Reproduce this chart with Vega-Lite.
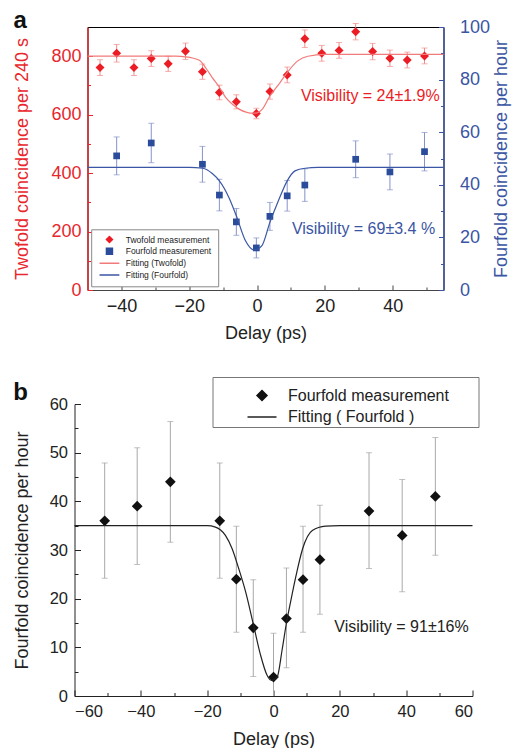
{
  "$schema": "https://vega.github.io/schema/vega-lite/v6.json",
  "padding": {"left": 11.5, "top": 8, "right": 0, "bottom": 0},
  "background": "#ffffff",
  "config": {
    "font": "Liberation Sans",
    "view": {"stroke": null},
    "axis": {"grid": false, "titleFontWeight": "normal", "labelFontSize": 18, "titleFontSize": 18, "tickSize": -5, "labelPadding": 12, "labelColor": "#222", "titleColor": "#222", "domainColor": "#444", "tickColor": "#444"},
    "legend": {"titleFontSize": 0}
  },
  "spacing": 33,
  "resolve": {"scale": {"color": "independent", "shape": "independent"}, "legend": {"color": "independent", "shape": "independent"}},
  "vconcat": [
    {
      "spacing": 0,
      "resolve": {"scale": {"color": "independent", "shape": "independent"}, "legend": {"color": "independent", "shape": "independent"}},
      "hconcat": [
        {"width": 1, "height": 1, "data": {"values": [{"k": 0}]}, "mark": {"type": "point", "size": 0, "opacity": 0}},
        {
          "width": 356,
          "height": 263,
          "title": {"text": "a", "anchor": "start", "frame": "bounds", "fontSize": 24, "fontWeight": "bold", "color": "#111", "offset": -15},
          "view": {"stroke": "#000", "strokeWidth": 1},
          "resolve": {"scale": {"y": "independent"}, "axis": {"x": "independent"}},
          "layer": [
            {
              "resolve": {"axis": {"y": "independent"}},
              "layer": [
                {
                  "data": {"values": [
                    {"x": -46.3, "v": 761, "lo": 734, "hi": 788, "s": "Twofold measurement"},
                    {"x": -41.4, "v": 810, "lo": 780, "hi": 840, "s": "Twofold measurement"},
                    {"x": -36.3, "v": 761, "lo": 734, "hi": 788, "s": "Twofold measurement"},
                    {"x": -31.2, "v": 792, "lo": 765, "hi": 819, "s": "Twofold measurement"},
                    {"x": -26.2, "v": 774, "lo": 748, "hi": 800, "s": "Twofold measurement"},
                    {"x": -21.1, "v": 817, "lo": 789, "hi": 845, "s": "Twofold measurement"},
                    {"x": -16.1, "v": 747, "lo": 721, "hi": 773, "s": "Twofold measurement"},
                    {"x": -11.1, "v": 676, "lo": 651, "hi": 701, "s": "Twofold measurement"},
                    {"x": -6.1, "v": 644, "lo": 620, "hi": 668, "s": "Twofold measurement"},
                    {"x": -0.2, "v": 604, "lo": 586, "hi": 622, "s": "Twofold measurement"},
                    {"x": 3.8, "v": 679, "lo": 653, "hi": 705, "s": "Twofold measurement"},
                    {"x": 8.9, "v": 736, "lo": 709, "hi": 763, "s": "Twofold measurement"},
                    {"x": 14.1, "v": 860, "lo": 830, "hi": 890, "s": "Twofold measurement"},
                    {"x": 19.1, "v": 810, "lo": 783, "hi": 837, "s": "Twofold measurement"},
                    {"x": 24.2, "v": 820, "lo": 793, "hi": 847, "s": "Twofold measurement"},
                    {"x": 29.1, "v": 884, "lo": 856, "hi": 912, "s": "Twofold measurement"},
                    {"x": 34.1, "v": 816, "lo": 788, "hi": 844, "s": "Twofold measurement"},
                    {"x": 39.2, "v": 793, "lo": 765, "hi": 821, "s": "Twofold measurement"},
                    {"x": 44.3, "v": 787, "lo": 760, "hi": 814, "s": "Twofold measurement"},
                    {"x": 49.4, "v": 801, "lo": 774, "hi": 828, "s": "Twofold measurement"}
                  ]},
                  "layer": [
                    {
                      "mark": {"type": "rule", "color": "#f28b8b", "strokeWidth": 1},
                      "encoding": {
                        "x": {"field": "x", "type": "quantitative", "title": "Delay (ps)", "scale": {"domain": [-50, 55], "nice": false},
                              "axis": {"orient": "bottom", "values": [-40, -20, 0, 20, 40], "labelPadding": 12.5, "titlePadding": 8.5}},
                        "y": {"field": "lo", "type": "quantitative", "title": "Twofold coincidence per 240 s", "scale": {"domain": [0, 900], "nice": false},
                              "axis": {"orient": "left", "values": [0, 200, 400, 600, 800], "labelColor": "#e8262c", "titleColor": "#e8262c", "domainColor": "#e8262c", "tickColor": "#e8262c", "domainWidth": 1.3, "labelPadding": 11.5, "titlePadding": 19.5}},
                        "y2": {"field": "hi"}
                      }
                    },
                    {
                      "mark": {"type": "tick", "orient": "horizontal", "color": "#f28b8b", "size": 6, "thickness": 1},
                      "encoding": {
                        "x": {"field": "x", "type": "quantitative", "title": "Delay (ps)"},
                        "y": {"field": "hi", "type": "quantitative", "title": "Twofold coincidence per 240 s"}
                      }
                    },
                    {
                      "mark": {"type": "tick", "orient": "horizontal", "color": "#f28b8b", "size": 6, "thickness": 1},
                      "encoding": {
                        "x": {"field": "x", "type": "quantitative", "title": "Delay (ps)"},
                        "y": {"field": "lo", "type": "quantitative", "title": "Twofold coincidence per 240 s"}
                      }
                    },
                    {
                      "mark": {"type": "point", "filled": true, "size": 80, "opacity": 1},
                      "encoding": {
                        "x": {"field": "x", "type": "quantitative", "title": "Delay (ps)"},
                        "y": {"field": "v", "type": "quantitative", "title": "Twofold coincidence per 240 s"},
                        "color": {"field": "s", "type": "nominal", "title": null,
                          "scale": {"domain": ["Twofold measurement", "Fourfold measurement", "Fitting (Twofold)", "Fitting (Fourfold)"], "range": ["#ec1c24", "#2b4c9b", "#f37a7a", "#3a56a5"]},
                          "legend": {"orient": "none", "legendX": 3.7, "legendY": 202.3, "padding": 6, "strokeColor": "#888", "fillColor": "#ffffff",
                            "labelFontSize": 8.5, "labelColor": "#222", "symbolOffset": 8, "labelOffset": 12, "rowPadding": 2.8, "clipHeight": 8.5, "symbolSize": 36,
                            "encode": {"symbols": {"update": {
                              "size": {"value": 36},
                              "strokeWidth": {"value": 1.2},
                              "opacity": {"value": 1},
                              "fill": {"signal": "datum.value === 'Twofold measurement' ? '#ec1c24' : datum.value === 'Fourfold measurement' ? '#2b4c9b' : 'transparent'"},
                              "stroke": {"signal": "datum.value === 'Twofold measurement' ? '#ec1c24' : datum.value === 'Fourfold measurement' ? '#2b4c9b' : datum.value === 'Fitting (Twofold)' ? '#f37a7a' : '#3a56a5'"}
                            }}}}},
                        "shape": {"field": "s", "type": "nominal", "title": null,
                          "scale": {"domain": ["Twofold measurement", "Fourfold measurement", "Fitting (Twofold)", "Fitting (Fourfold)"], "range": ["diamond", "square", "M-3.3,0H3.3", "M-3.3,0H3.3"]}}
                      }
                    }
                  ]
                },
                {
                  "data": {"values": [
                    {"x": -50, "v": 800, "s": "Fitting (Twofold)"},
                    {"x": -24, "v": 800, "s": "Fitting (Twofold)"},
                    {"x": -21, "v": 798, "s": "Fitting (Twofold)"},
                    {"x": -17, "v": 786, "s": "Fitting (Twofold)"},
                    {"x": -15, "v": 758, "s": "Fitting (Twofold)"},
                    {"x": -13.2, "v": 727, "s": "Fitting (Twofold)"},
                    {"x": -11, "v": 692, "s": "Fitting (Twofold)"},
                    {"x": -9.2, "v": 658, "s": "Fitting (Twofold)"},
                    {"x": -7, "v": 633, "s": "Fitting (Twofold)"},
                    {"x": -5.3, "v": 619, "s": "Fitting (Twofold)"},
                    {"x": -3, "v": 608, "s": "Fitting (Twofold)"},
                    {"x": -1.4, "v": 605, "s": "Fitting (Twofold)"},
                    {"x": 0, "v": 606, "s": "Fitting (Twofold)"},
                    {"x": 1.5, "v": 618, "s": "Fitting (Twofold)"},
                    {"x": 3.8, "v": 664, "s": "Fitting (Twofold)"},
                    {"x": 6.8, "v": 710, "s": "Fitting (Twofold)"},
                    {"x": 8.9, "v": 744, "s": "Fitting (Twofold)"},
                    {"x": 12, "v": 784, "s": "Fitting (Twofold)"},
                    {"x": 15, "v": 800, "s": "Fitting (Twofold)"},
                    {"x": 20, "v": 806, "s": "Fitting (Twofold)"},
                    {"x": 55, "v": 806, "s": "Fitting (Twofold)"}
                  ]},
                  "mark": {"type": "line", "interpolate": "monotone", "strokeWidth": 1.2},
                  "encoding": {
                    "x": {"field": "x", "type": "quantitative", "title": "Delay (ps)"},
                    "y": {"field": "v", "type": "quantitative", "title": null,
                          "axis": {"orient": "left", "values": [100, 300, 500, 700], "labels": false, "domain": false, "title": null, "tickSize": -3, "tickColor": "#e8262c"}},
                    "color": {"field": "s", "type": "nominal", "title": null}
                  }
                },
                {
                  "data": {"values": [{"x": 33.4, "v": 664, "label": "Visibility = 24±1.9%"}]},
                  "mark": {"type": "text", "fontSize": 16, "color": "#ec1c24", "align": "center", "baseline": "middle"},
                  "encoding": {
                    "x": {"field": "x", "type": "quantitative", "title": "Delay (ps)"},
                    "y": {"field": "v", "type": "quantitative", "axis": null},
                    "text": {"field": "label"}
                  }
                }
              ]
            },
            {
              "resolve": {"axis": {"y": "independent"}},
              "layer": [
                {
                  "data": {"values": [
                    {"x": -41.4, "v": 51.0, "lo": 43.8, "hi": 58.2, "s": "Fourfold measurement"},
                    {"x": -31.2, "v": 55.9, "lo": 48.4, "hi": 63.4, "s": "Fourfold measurement"},
                    {"x": -16.1, "v": 47.8, "lo": 41.0, "hi": 54.6, "s": "Fourfold measurement"},
                    {"x": -11.1, "v": 36.1, "lo": 30.1, "hi": 42.1, "s": "Fourfold measurement"},
                    {"x": -6.1, "v": 25.9, "lo": 20.8, "hi": 31.0, "s": "Fourfold measurement"},
                    {"x": -0.2, "v": 16.0, "lo": 12.2, "hi": 19.8, "s": "Fourfold measurement"},
                    {"x": 3.8, "v": 28.0, "lo": 22.7, "hi": 33.3, "s": "Fourfold measurement"},
                    {"x": 8.9, "v": 35.8, "lo": 30.0, "hi": 41.6, "s": "Fourfold measurement"},
                    {"x": 14.1, "v": 39.9, "lo": 33.7, "hi": 46.1, "s": "Fourfold measurement"},
                    {"x": 29.1, "v": 49.7, "lo": 42.7, "hi": 56.7, "s": "Fourfold measurement"},
                    {"x": 39.2, "v": 44.9, "lo": 38.1, "hi": 51.7, "s": "Fourfold measurement"},
                    {"x": 49.4, "v": 52.6, "lo": 45.3, "hi": 59.9, "s": "Fourfold measurement"}
                  ]},
                  "layer": [
                    {
                      "mark": {"type": "rule", "color": "#8493cc", "strokeWidth": 1},
                      "encoding": {
                        "x": {"field": "x", "type": "quantitative", "title": null,
                              "axis": {"orient": "bottom", "values": [-30, -10, 10, 30, 50], "labels": false, "domain": false, "title": null, "tickSize": -3}},
                        "y": {"field": "lo", "type": "quantitative", "title": "Fourfold coincidence per hour", "scale": {"domain": [0, 100], "nice": false},
                              "axis": {"orient": "right", "values": [0, 20, 40, 60, 80, 100], "labelColor": "#3a55a3", "titleColor": "#3a55a3", "domainColor": "#3a55a3", "tickColor": "#3a55a3", "domainWidth": 1.3, "labelPadding": 21, "titlePadding": 3, "titleAngle": 270, "titleBaseline": "top"}},
                        "y2": {"field": "hi"}
                      }
                    },
                    {
                      "mark": {"type": "tick", "orient": "horizontal", "color": "#8493cc", "size": 6, "thickness": 1},
                      "encoding": {
                        "x": {"field": "x", "type": "quantitative", "title": null},
                        "y": {"field": "hi", "type": "quantitative", "title": "Fourfold coincidence per hour"}
                      }
                    },
                    {
                      "mark": {"type": "tick", "orient": "horizontal", "color": "#8493cc", "size": 6, "thickness": 1},
                      "encoding": {
                        "x": {"field": "x", "type": "quantitative", "title": null},
                        "y": {"field": "lo", "type": "quantitative", "title": "Fourfold coincidence per hour"}
                      }
                    },
                    {
                      "mark": {"type": "point", "filled": true, "size": 45, "opacity": 1},
                      "encoding": {
                        "x": {"field": "x", "type": "quantitative", "title": null},
                        "y": {"field": "v", "type": "quantitative", "title": "Fourfold coincidence per hour"},
                        "color": {"field": "s", "type": "nominal", "title": null},
                        "shape": {"field": "s", "type": "nominal", "title": null}
                      }
                    }
                  ]
                },
                {
                  "data": {"values": [
                    {"x": -50, "v": 46.6, "s": "Fitting (Fourfold)"},
                    {"x": -20, "v": 46.6, "s": "Fitting (Fourfold)"},
                    {"x": -16, "v": 46.3, "s": "Fitting (Fourfold)"},
                    {"x": -13.2, "v": 44.3, "s": "Fitting (Fourfold)"},
                    {"x": -11.1, "v": 41.5, "s": "Fitting (Fourfold)"},
                    {"x": -8.3, "v": 35.2, "s": "Fitting (Fourfold)"},
                    {"x": -6.1, "v": 28.2, "s": "Fitting (Fourfold)"},
                    {"x": -3.4, "v": 18.7, "s": "Fitting (Fourfold)"},
                    {"x": -0.9, "v": 15.2, "s": "Fitting (Fourfold)"},
                    {"x": 1.4, "v": 16.8, "s": "Fitting (Fourfold)"},
                    {"x": 3.8, "v": 25.7, "s": "Fitting (Fourfold)"},
                    {"x": 6.3, "v": 33.9, "s": "Fitting (Fourfold)"},
                    {"x": 8.9, "v": 41.5, "s": "Fitting (Fourfold)"},
                    {"x": 11.2, "v": 45.3, "s": "Fitting (Fourfold)"},
                    {"x": 14.2, "v": 46.3, "s": "Fitting (Fourfold)"},
                    {"x": 18, "v": 46.6, "s": "Fitting (Fourfold)"},
                    {"x": 55, "v": 46.6, "s": "Fitting (Fourfold)"}
                  ]},
                  "mark": {"type": "line", "interpolate": "monotone", "strokeWidth": 1.2},
                  "encoding": {
                    "x": {"field": "x", "type": "quantitative", "title": null},
                    "y": {"field": "v", "type": "quantitative", "title": null,
                          "axis": {"orient": "right", "values": [10, 30, 50, 70, 90], "labels": false, "domain": false, "title": null, "tickSize": -3, "tickColor": "#3a55a3"}},
                    "color": {"field": "s", "type": "nominal", "title": null}
                  }
                },
                {
                  "data": {"values": [{"x": 31.4, "v": 23.2, "label": "Visibility = 69±3.4 %"}]},
                  "mark": {"type": "text", "fontSize": 16, "color": "#3a55a3", "align": "center", "baseline": "middle"},
                  "encoding": {
                    "x": {"field": "x", "type": "quantitative", "title": null},
                    "y": {"field": "v", "type": "quantitative", "axis": null},
                    "text": {"field": "label"}
                  }
                }
              ]
            }
          ]
        }
      ]
    },
    {
      "spacing": 0,
      "resolve": {"scale": {"color": "independent", "shape": "independent"}, "legend": {"color": "independent", "shape": "independent"}},
      "hconcat": [
        {"width": 1, "height": 1, "data": {"values": [{"k": 0}]}, "mark": {"type": "point", "size": 0, "opacity": 0}},
        {
          "width": 398,
          "height": 292,
          "title": {"text": "b", "anchor": "start", "frame": "bounds", "fontSize": 24, "fontWeight": "bold", "color": "#111", "offset": -28},
          "resolve": {"axis": {"x": "independent", "y": "independent"}},
          "layer": [
            {
              "data": {"values": [
                {"x": -50.9, "v": 36, "lo": 24.2, "hi": 47.9, "s": "Fourfold measurement"},
                {"x": -41.1, "v": 39, "lo": 27.0, "hi": 51.0, "s": "Fourfold measurement"},
                {"x": -31.1, "v": 44, "lo": 31.6, "hi": 56.4, "s": "Fourfold measurement"},
                {"x": -16.2, "v": 36, "lo": 24.2, "hi": 47.9, "s": "Fourfold measurement"},
                {"x": -11.2, "v": 24, "lo": 13.1, "hi": 34.9, "s": "Fourfold measurement"},
                {"x": -6.1, "v": 14, "lo": 4.0, "hi": 23.9, "s": "Fourfold measurement"},
                {"x": 0, "v": 3.9, "lo": -5, "hi": 12.9, "s": "Fourfold measurement"},
                {"x": 3.9, "v": 15.9, "lo": 5.8, "hi": 26.3, "s": "Fourfold measurement"},
                {"x": 8.9, "v": 23.9, "lo": 13.1, "hi": 34.9, "s": "Fourfold measurement"},
                {"x": 14.0, "v": 28, "lo": 16.8, "hi": 39.2, "s": "Fourfold measurement"},
                {"x": 28.8, "v": 38, "lo": 26.2, "hi": 50.0, "s": "Fourfold measurement"},
                {"x": 38.8, "v": 33, "lo": 21.4, "hi": 44.5, "s": "Fourfold measurement"},
                {"x": 48.8, "v": 41, "lo": 28.9, "hi": 53.1, "s": "Fourfold measurement"}
              ]},
              "layer": [
                {
                  "mark": {"type": "rule", "color": "#a8a8a8", "strokeWidth": 1, "clip": true},
                  "encoding": {
                    "x": {"field": "x", "type": "quantitative", "title": "Delay (ps)", "scale": {"domain": [-60, 60], "nice": false},
                          "axis": {"orient": "bottom", "values": [-60, -40, -20, 0, 20, 40, 60], "labelFontSize": 16.5, "labelPadding": 13, "titlePadding": 11, "tickSize": -6, "domainColor": "#222", "tickColor": "#222"}},
                    "y": {"field": "lo", "type": "quantitative", "title": "Fourfold coincidence per hour", "scale": {"domain": [0, 60], "nice": false},
                          "axis": {"orient": "left", "values": [0, 10, 20, 30, 40, 50, 60], "labelFontSize": 16.5, "labelPadding": 13, "titlePadding": 18, "tickSize": -6, "domainColor": "#222", "tickColor": "#222"}},
                    "y2": {"field": "hi"}
                  }
                },
                {
                  "mark": {"type": "tick", "orient": "horizontal", "color": "#a8a8a8", "size": 6, "thickness": 1, "clip": true},
                  "encoding": {
                    "x": {"field": "x", "type": "quantitative", "title": "Delay (ps)"},
                    "y": {"field": "hi", "type": "quantitative", "title": "Fourfold coincidence per hour"}
                  }
                },
                {
                  "mark": {"type": "tick", "orient": "horizontal", "color": "#a8a8a8", "size": 6, "thickness": 1, "clip": true},
                  "encoding": {
                    "x": {"field": "x", "type": "quantitative", "title": "Delay (ps)"},
                    "y": {"field": "lo", "type": "quantitative", "title": "Fourfold coincidence per hour"}
                  }
                },
                {
                  "mark": {"type": "point", "filled": true, "size": 115, "opacity": 1},
                  "encoding": {
                    "x": {"field": "x", "type": "quantitative", "title": "Delay (ps)"},
                    "y": {"field": "v", "type": "quantitative", "title": "Fourfold coincidence per hour"},
                    "color": {"field": "s", "type": "nominal", "title": ".",
                      "scale": {"domain": ["Fourfold measurement", "Fitting ( Fourfold )"], "range": ["#111111", "#222222"]},
                      "legend": {"title": "MMMMMMMMMMMMMMMMMMMMMMMMMMMMMMMMM", "titleFontSize": 9, "titleColor": "#ffffff", "titlePadding": 0, "titleLimit": 600, "orient": "none", "legendX": 138, "legendY": -27, "padding": 1.5, "strokeColor": "#777", "fillColor": "#ffffff",
                        "labelFontSize": 16, "labelColor": "#222", "labelLimit": 400, "symbolOffset": 40, "labelOffset": 18, "rowPadding": 5.5, "clipHeight": 16,
                        "encode": {"symbols": {"update": {
                          "size": {"value": 115},
                          "strokeWidth": {"value": 1.2},
                          "opacity": {"value": 1},
                          "fill": {"signal": "datum.value === 'Fourfold measurement' ? '#111' : 'transparent'"},
                          "stroke": {"signal": "'#111'"}
                        }}}}},
                    "shape": {"field": "s", "type": "nominal", "title": ".",
                      "scale": {"domain": ["Fourfold measurement", "Fitting ( Fourfold )"], "range": ["diamond", "M-2.9,0H2.9"]}}
                  }
                }
              ]
            },
            {
              "data": {"values": [
                {"x": -60, "v": 35, "s": "Fitting ( Fourfold )"},
                {"x": -20, "v": 35, "s": "Fitting ( Fourfold )"},
                {"x": -17.5, "v": 34.7, "s": "Fitting ( Fourfold )"},
                {"x": -14.5, "v": 33, "s": "Fitting ( Fourfold )"},
                {"x": -12.5, "v": 30.3, "s": "Fitting ( Fourfold )"},
                {"x": -10.5, "v": 26.2, "s": "Fitting ( Fourfold )"},
                {"x": -8.4, "v": 21.4, "s": "Fitting ( Fourfold )"},
                {"x": -5.9, "v": 14.2, "s": "Fitting ( Fourfold )"},
                {"x": -3.9, "v": 8.4, "s": "Fitting ( Fourfold )"},
                {"x": -1.9, "v": 4.2, "s": "Fitting ( Fourfold )"},
                {"x": -0.6, "v": 3.2, "s": "Fitting ( Fourfold )"},
                {"x": 1.1, "v": 3.9, "s": "Fitting ( Fourfold )"},
                {"x": 2.6, "v": 9.5, "s": "Fitting ( Fourfold )"},
                {"x": 3.9, "v": 15, "s": "Fitting ( Fourfold )"},
                {"x": 5.2, "v": 19.5, "s": "Fitting ( Fourfold )"},
                {"x": 6.6, "v": 24.1, "s": "Fitting ( Fourfold )"},
                {"x": 8.8, "v": 30.3, "s": "Fitting ( Fourfold )"},
                {"x": 11.7, "v": 34, "s": "Fitting ( Fourfold )"},
                {"x": 15.7, "v": 34.9, "s": "Fitting ( Fourfold )"},
                {"x": 20, "v": 35, "s": "Fitting ( Fourfold )"},
                {"x": 60, "v": 35, "s": "Fitting ( Fourfold )"}
              ]},
              "mark": {"type": "line", "interpolate": "monotone", "strokeWidth": 1.2},
              "encoding": {
                "x": {"field": "x", "type": "quantitative", "title": null,
                      "axis": {"orient": "bottom", "values": [-50, -30, -10, 10, 30, 50], "labels": false, "domain": false, "title": null, "tickSize": -3.5, "tickColor": "#222"}},
                "y": {"field": "v", "type": "quantitative", "title": null,
                      "axis": {"orient": "left", "values": [5, 15, 25, 35, 45, 55], "labels": false, "domain": false, "title": null, "tickSize": -3.5, "tickColor": "#222"}},
                "color": {"field": "s", "type": "nominal", "title": "."}
              }
            },
            {
              "data": {"values": [{"x": 38.6, "v": 14.2, "label": "Visibility = 91±16%"}]},
              "mark": {"type": "text", "fontSize": 16, "color": "#222", "align": "center", "baseline": "middle"},
              "encoding": {
                "x": {"field": "x", "type": "quantitative", "axis": null},
                "y": {"field": "v", "type": "quantitative", "axis": null},
                "text": {"field": "label"}
              }
            }
          ]
        }
      ]
    }
  ]
}
